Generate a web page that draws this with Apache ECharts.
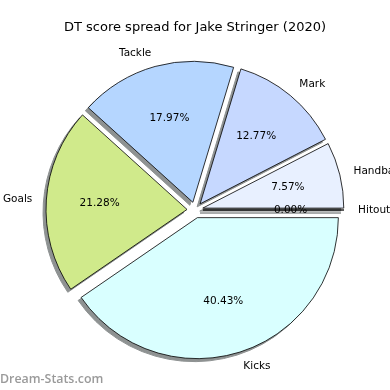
<!DOCTYPE html>
<html>
<head>
<meta charset="utf-8">
<script src="https://cdn.jsdelivr.net/npm/echarts@6/dist/echarts.min.js"></script>
<style>
  html, body { margin: 0; padding: 0; background: #fff; }
  #chart { width: 390px; height: 390px; }
</style>
</head>
<body>
<div id="chart"></div>
<script>
// DT points per stat, drawn counter-clockwise from 3 o'clock
const categories = ['Hitout', 'Handball', 'Mark', 'Tackle', 'Goals', 'Kicks'];
const points = [0, 32, 54, 76, 90, 171];
const colors = ['#e8f0ff', '#e8f0ff', '#c6d8ff', '#b5d6ff', '#d0ea8b', '#d9ffff'];

const total = points.reduce((a, b) => a + b, 0);
const R = 141;
const off = 8;
const cx = 195, cy = 210;

let myChart = echarts.init(document.getElementById('chart'));

// shared pie settings
const base = {
	type: 'pie',
	startAngle: 0,
	clockwise: false,
	avoidLabelOverlap: false,
	selectedMode: 'multiple',
	selectedOffset: off,
	emphasis: { disabled: true },
	labelLine: { show: false }
};

let option = {
	animation: false,
	title: {
		text: 'DT score spread for Jake Stringer (2020)',
		left: 'center',
		top: 16,
		textStyle: { fontFamily: 'DejaVu Sans', fontSize: 13, fontWeight: 'normal', color: '#000' }
	},
	graphic: [{
		type: 'text',
		left: 0,
		top: 373,
		style: { text: 'Dream-Stats.com', fontFamily: 'Open Sans', fontSize: 12.4, fontWeight: 600, fill: '#9a9a9a' }
	}],
	series: [
		Object.assign({}, base, {
			// drop shadow, shifted left and down
			center: [cx - 3, cy + 3],
			radius: [0, R],
			silent: true,
			z: 1,
			itemStyle: { color: '#8e9292', borderWidth: 1, borderColor: '#8e9292' },
			label: { show: false },
			data: categories.map((c, i) => ({ name: c, value: points[i], selected: true }))
		}),
		Object.assign({}, base, {
			// the wedges, with outer name labels
			center: [cx, cy],
			radius: [0, R],
			z: 2,
			itemStyle: { borderColor: '#000', borderWidth: 0.8 },
			label: {
				show: true,
				position: 'outside',
				formatter: '{b}',
				fontFamily: 'DejaVu Sans',
				fontSize: 10.5,
				color: '#000',
				distanceToLabelLine: 0
			},
			labelLine: { show: false, length: R * 0.1, length2: 0 },
			data: categories.map((c, i) => ({
				name: c,
				value: points[i],
				selected: true,
				itemStyle: { color: colors[i] }
			}))
		}),
		Object.assign({}, base, {
			// invisible copy used only to place the percentages at 0.6 R
			center: [cx, cy],
			radius: [0, R * 1.2],
			silent: true,
			z: 3,
			itemStyle: { color: 'rgba(0,0,0,0)', borderWidth: 0 },
			label: {
				show: true,
				position: 'inside',
				formatter: p => (p.value / total * 100).toFixed(2) + '%',
				fontFamily: 'DejaVu Sans',
				fontSize: 10.5,
				color: '#000'
			},
			data: categories.map((c, i) => ({ name: c, value: points[i], selected: true }))
		})
	]
};

myChart.setOption(option);
</script>
</body>
</html>
